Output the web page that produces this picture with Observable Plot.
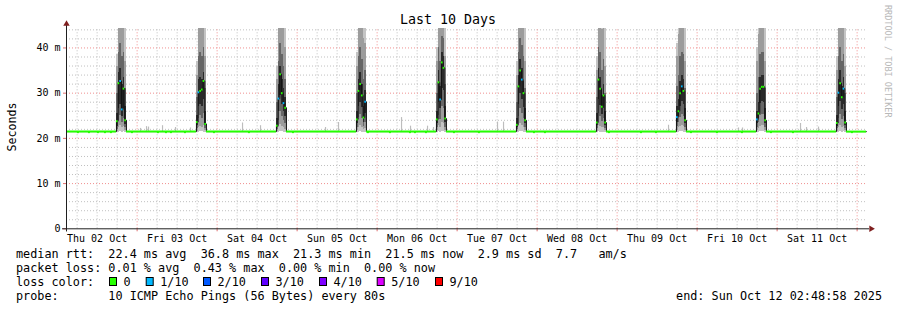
<!DOCTYPE html>
<html><head><meta charset="utf-8">
<script src="https://cdn.jsdelivr.net/npm/d3@7"></script>
<script src="https://cdn.jsdelivr.net/npm/@observablehq/plot@0.6"></script>
<style>
html,body{margin:0;padding:0;background:#fff;}
#chart{position:relative;width:897px;height:310px;}
svg text{white-space:pre;}
</style></head><body><div id="chart"></div>
<script>
// ---------- data ----------
const titleText = "Last 10 Days";
const yAxisTitle = "Seconds";
const watermark = "RRDTOOL / TOBI OETIKER";
// hours since Thu 02 Oct 00:00
const windowStart = 2.816;
const windowEnd = 242.816;
const dayLabels = ["Thu 02 Oct","Fri 03 Oct","Sat 04 Oct","Sun 05 Oct","Mon 06 Oct","Tue 07 Oct","Wed 08 Oct","Thu 09 Oct","Fri 10 Oct","Sat 11 Oct"];
const dayNoonHours = [12,36,60,84,108,132,156,180,204,228];
const dayMidnightHours = [24,48,72,96,120,144,168,192,216,240];
const sixHourHours = [6,12,18,30,36,42,54,60,66,78,84,90,102,108,114,126,132,138,150,156,162,174,180,186,198,204,210,222,228,234];
const yTickValues = [0,10,20,30,40];
const yMinorValues = [2,4,6,8,12,14,16,18,22,24,26,28,32,34,36,38,42,44];
const yMajorValues = [10,20,30,40];
const yMax = 44.3;

const baseMedian = 21.5;
const lossLevels = ["0","1/10","2/10","3/10","4/10","5/10","9/10"];
const lossColors = ["#26ff00","#00b8ff","#0059ff","#5e00ff","#7e00ff","#dd00ff","#ff0000"];

// daily evening spikes: start hour, 6 columns of 0.5 h
const spikeStarts = [17.8, 41.8, 65.8, 89.8, 113.8, 137.8, 161.8, 185.8, 209.8, 233.8];
const spikeMedians = [
  [23.8, 32.2, 32.7, 26.4, 31.0, 24.0],
  [23.6, 30.2, 30.5, 30.8, 32.7, 23.2],
  [22.8, 28.8, 34.2, 30.0, 27.8, 26.8],
  [24.2, 30.5, 32.0, 29.5, 24.6, 28.1],
  [24.2, 32.4, 28.6, 36.8, 35.6, 24.4],
  [23.0, 31.5, 35.0, 33.0, 30.0, 24.0],
  [23.5, 33.0, 31.0, 27.0, 29.5, 23.5],
  [24.7, 26.0, 30.0, 31.5, 30.5, 24.0],
  [24.2, 25.5, 31.0, 31.4, 31.4, 24.0],
  [23.4, 30.1, 32.2, 29.1, 31.0, 23.5]
];
const spikeLoss = [
  [0,0,1,1,0,0],
  [0,1,0,0,0,0],
  [0,1,0,0,1,0],
  [0,0,0,0,0,1],
  [0,0,1,0,0,0],
  [0,0,0,1,0,0],
  [0,0,0,0,0,0],
  [1,0,0,1,0,0],
  [1,0,0,0,0,0],
  [0,1,0,0,1,0]
];
// sorted ping values per column: p1,p2,p3,p4,p7,p8,p9,p10 (ms)
const spikePings = [
  [[21.2,21.5,22.0,22.6,25.5,30,36,38.5],[21.4,22.4,24.0,26.5,34.5,39,45,49],[21.5,22.8,25.0,27.5,35.5,41,46,50],[21.4,22.3,23.5,24.8,32,38,45,49],[21.5,22.6,24.5,26.5,33.5,39,44.8,48],[21.3,21.8,22.3,23.0,27,31,37,47]],
  [[21.2,21.6,22.2,22.8,25,29,34,37],[21.4,22.5,24.5,27,33,38,45,49],[21.5,22.6,25,27.5,33.5,39,46,50],[21.5,22.4,24.5,27,33,38,45,49],[21.4,22.8,25.5,28.5,34.5,40,45.5,49],[21.3,21.7,22.2,22.8,26,31,38,46]],
  [[21.2,21.5,21.9,22.4,24.5,28,33,36],[21.4,22.3,24,26,32,37,44.5,48],[21.5,23,26,29.5,36,41,46,50],[21.5,22.6,24.8,27.5,33,38.5,45.5,49],[21.4,22.4,24,26,31,36,44.8,48],[21.3,22,23.2,24.8,29,33,40,47]],
  [[21.2,21.7,22.4,23.2,26,30,36,39],[21.4,22.5,24.6,27,33,38,45,49],[21.5,22.8,25.2,28,34.5,40,46,50],[21.4,22.5,24.5,26.8,32,37.5,45,49],[21.3,21.9,22.6,23.4,27,33,42,48],[21.3,22.1,23.6,25.5,30.5,35,41,47]],
  [[21.2,21.7,22.4,23.2,26,30,37,40],[21.5,22.8,25,28,35,40,46,50],[21.4,22.5,24.2,26.5,31.5,37,45,49],[21.6,23.5,27,31,39,42.5,47,51],[21.6,23.2,26.5,30.5,38,42,46.5,50],[21.3,21.8,22.5,23.4,27,32,38,46]],
  [[21.2,21.5,22.0,22.5,24.5,28,34,37],[21.4,22.6,24.8,27.5,34,39,45,49],[21.6,23.2,26.5,30,37.5,42,46.5,50],[21.5,22.9,25.5,28.5,35.5,40.5,46,50],[21.4,22.5,24.5,26.8,32.5,38,45,49],[21.3,21.8,22.4,23.2,26.5,31,37,46]],
  [[21.2,21.6,22.1,22.8,25.5,29,35,38],[21.5,22.9,25.5,28.5,35.5,40,46,50],[21.4,22.6,24.8,27.2,33.5,39,45.5,49],[21.4,22.3,23.8,25.2,29.5,35,44,48],[21.4,22.5,24.3,26.5,32,37.5,45,49],[21.3,21.7,22.2,22.9,26,30,36,45]],
  [[21.2,21.8,22.6,23.6,27,31.5,38,41],[21.4,22.3,23.6,24.8,28.5,34,43,48],[21.5,22.6,24.6,27,32.5,38,45,49],[21.5,22.8,25.3,28.2,34,39,45.5,49],[21.4,22.6,24.8,27.4,33,38.5,45,49],[21.3,21.8,22.4,23.2,26.5,31,37,46]],
  [[21.2,21.7,22.4,23.2,26,30,37,40],[21.4,22.2,23.4,24.4,28,33.5,43,48],[21.5,22.7,25,27.8,33.5,38.5,45,49],[21.5,22.8,25.2,28.2,34,39,45.5,49],[21.5,22.8,25.2,28,33.8,39,45,49],[21.3,21.8,22.4,23.2,26.5,31,37,46]],
  [[21.2,21.6,22.1,22.7,25,29,35,38],[21.4,22.5,24.5,27,33,38,45,49],[21.5,22.8,25.3,28.2,35,40,46,50],[21.4,22.4,24.2,26.4,31.5,37,45,49],[21.5,22.6,24.8,27.5,33.5,38.5,45,49],[21.3,21.7,22.2,22.9,26,30,36,45]]
];
// small isolated smoke blips above the baseline: [hour, top ms]
const blips = [[25.0,22.2],[26.8,22.6],[27.4,22.5],[31.6,22.8],[35.5,22.4],[40.0,22.3],[55.6,23.4],[61.0,22.8],[80.5,22.4],[84.4,23.5],[103.3,24.6],[106.0,22.7],[111.1,22.7],[112.9,22.4],[132.1,23.6],[133.9,23.6],[183.4,22.9],[204.4,22.3],[205.6,22.3],[223.0,23.3],[224.8,22.4],[228.4,22.5]];
// hours where the median briefly dips to ~21.1 ms
const dipHours = [6.1,9.4,12.1,14.2,16.0,22.3,30.1,32.5,34.0,38.2,46.9,57.4,70.6,93.1,99.7,105.7,107.2,110.5,118.9,126.4,142.9,146.2,165.4,175.0,179.5,190.0,197.8,205.3,214.0,220.6,238.3];

const statsLines = [
  "median rtt:  22.4 ms avg  36.8 ms max  21.3 ms min  21.5 ms now  2.9 ms sd  7.7   am/s",
  "packet loss: 0.01 % avg  0.43 % max  0.00 % min  0.00 % now"
];
const lossLabel = "loss color:";
const probeLine = "probe:       10 ICMP Echo Pings (56 Bytes) every 80s";
const endLine = "end: Sun Oct 12 02:48:58 2025";

// ---------- derived tables ----------
const colWidth = 0.5;
const layerColors = ["#c4c4c4","#9c9c9c","#666666","#2a2a2a"];
const smoke = [];
spikeStarts.forEach((s, i) => spikePings[i].forEach((p, c) => {
  for (let k = 0; k < 4; k++) smoke.push({x1: s + c*colWidth, x2: s + (c+1)*colWidth, y1: p[k], y2: p[7-k], layer: k});
}));
smoke.sort((a, b) => a.layer - b.layer);

const medLine = [{h: windowStart, v: baseMedian}];
const medDots = [];
const baseSegs = [];
let prev = windowStart;
spikeStarts.forEach((s, i) => {
  baseSegs.push({x1: prev, x2: s});
  spikeMedians[i].forEach((m, c) => {
    medLine.push({h: s + c*colWidth, v: m});
    medDots.push({x1: s + c*colWidth, x2: s + (c+1)*colWidth, y: m, loss: spikeLoss[i][c]});
  });
  prev = s + spikeMedians[i].length*colWidth;
  medLine.push({h: prev, v: baseMedian});
});
baseSegs.push({x1: prev, x2: windowEnd});
medLine.push({h: windowEnd, v: baseMedian});

const minorGrid = "#c0c0c0", majorGrid = "#f09090", axisColor = "#1f1f1f", arrowColor = "#7f1f1f";

const chart = Plot.plot({
  width: 897, height: 310,
  marginLeft: 66, marginRight: 31, marginTop: 28, marginBottom: 81.7,
  x: {domain: [windowStart, windowEnd], axis: null},
  y: {domain: [0, yMax], axis: null},
  color: {type: "identity"},
  style: {fontFamily: "'DejaVu Sans Mono', monospace", fontSize: "10px", background: "#fff", color: "#000", overflow: "visible"},
  marks: [
    Plot.ruleX(sixHourHours.filter(h => !dayMidnightHours.includes(h)), {x: d => d, y1: 0, y2: yMax, stroke: minorGrid, strokeDasharray: "1,2"}),
    Plot.ruleY(yMinorValues, {y: d => d, stroke: minorGrid, strokeDasharray: "1,2"}),
    Plot.ruleX(dayMidnightHours, {x: d => d, y1: 0, y2: yMax, stroke: majorGrid, strokeDasharray: "1,2"}),
    Plot.ruleY(yMajorValues, {y: d => d, stroke: majorGrid, strokeDasharray: "1,2"}),
    Plot.rect(blips, {x1: d => d[0], x2: d => d[0] + 0.35, y1: baseMedian, y2: d => d[1], fill: "#bdbdbd"}),
    Plot.rect(smoke, {x1: "x1", x2: "x2", y1: "y1", y2: "y2", fill: d => layerColors[d.layer], clip: true, shapeRendering: "crispEdges"}),
    Plot.line(medLine, {x: "h", y: "v", curve: "step-after", stroke: "#111", strokeWidth: 1}),
    Plot.ruleY(baseSegs, {y: baseMedian, x1: "x1", x2: "x2", stroke: lossColors[0], strokeWidth: 2}),
    Plot.rect(dipHours, {x1: d => d, x2: d => d + 0.6, y1: 21.05, y2: 21.4, fill: lossColors[0]}),
    Plot.ruleY(medDots, {y: "y", x1: "x1", x2: "x2", stroke: d => lossColors[d.loss], strokeWidth: 2}),
    // axes
    Plot.axisY(yTickValues, {anchor: "left", tickSize: 3, tickPadding: 3, stroke: "#e07070", fill: "#000", label: null, fontSize: 10, tickFormat: d => d === 0 ? "0" : `${d} m`}),
    Plot.axisX(dayMidnightHours, {anchor: "bottom", tickSize: 3, tickPadding: 0, stroke: "#e07070", label: null, tickFormat: () => ""}),
    Plot.axisX(dayNoonHours, {anchor: "bottom", tickSize: 0, tickPadding: 6, fill: "#000", label: null, fontSize: 10, tickFormat: d => dayLabels[dayNoonHours.indexOf(d)]}),
    Plot.ruleY([0], {y: 0, x1: windowStart - 1.2, x2: windowEnd + 0.9, stroke: axisColor}),
    Plot.ruleX([windowStart], {x: windowStart, y1: -0.7, y2: yMax + 0.8, stroke: axisColor}),
    Plot.dot([0], {x: windowStart, y: yMax + 1.0, symbol: "triangle", r: 2.4, fill: arrowColor, stroke: null}),
    Plot.dot([0], {x: windowEnd + 1.4, y: 0, symbol: "triangle", r: 2.4, fill: arrowColor, stroke: null, rotate: 90})
  ]
});
document.getElementById("chart").appendChild(chart);

// ---------- surrounding text ----------
const svg = d3.select(chart);
const g = svg.append("g").attr("font-family", "'DejaVu Sans Mono', monospace").attr("fill", "#000").attr("text-anchor", "start");
g.append("text").attr("x", 448).attr("y", 24).attr("text-anchor", "middle").attr("font-size", "13.3px").text(titleText);
g.append("text").attr("transform", "translate(16,127) rotate(-90)").attr("text-anchor", "middle").attr("font-size", "11.6px").text(yAxisTitle);
g.append("text").attr("transform", "translate(885,5) rotate(90)").attr("text-anchor", "start").attr("font-size", "8.5px").attr("fill", "#b8b8b8").text(watermark);
const legendFont = "11.8px";
statsLines.forEach((s, i) => {
  g.append("text").attr("x", 16).attr("y", 258 + i*14).attr("text-anchor", "start").attr("font-size", legendFont).text(s);
});
g.append("text").attr("x", 16).attr("y", 286).attr("text-anchor", "start").attr("font-size", legendFont).text(lossLabel);
const boxX = [109, 145.7, 203, 261, 319, 376.7, 435];
lossLevels.forEach((lv, i) => {
  g.append("rect").attr("x", boxX[i] + 0.5).attr("y", 277.5).attr("width", 7).attr("height", 8).attr("fill", lossColors[i]).attr("stroke", "#000").attr("stroke-width", 1);
  g.append("text").attr("x", boxX[i] + 14.5).attr("y", 286).attr("text-anchor", "start").attr("font-size", legendFont).text(lv);
});
g.append("text").attr("x", 16).attr("y", 300).attr("text-anchor", "start").attr("font-size", legendFont).text(probeLine);
g.append("text").attr("x", 882).attr("y", 300).attr("text-anchor", "end").attr("font-size", legendFont).text(endLine);
</script></body></html>
